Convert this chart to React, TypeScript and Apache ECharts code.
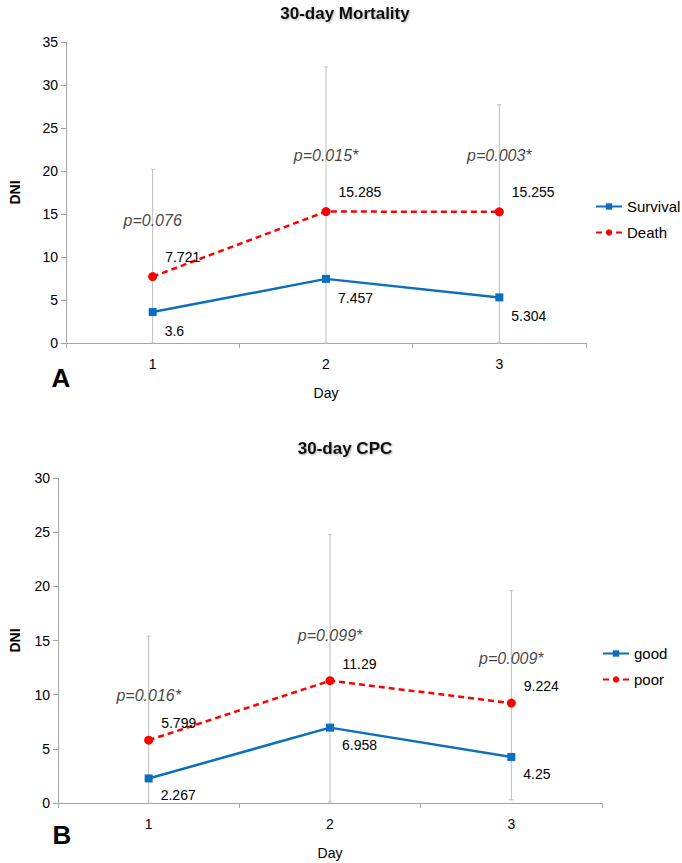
import React, { useEffect, useRef } from "react";
import * as echarts from "echarts";

const days = ["1", "2", "3"];

const mortSurvival = [3.6, 7.457, 5.304];
const mortDeath = [7.721, 15.285, 15.255];
const mortErrHigh = [20.2, 32.1, 27.7];
const mortErrLow = [0, 0, 0];
const mortP = ["p=0.076", "p=0.015*", "p=0.003*"];

const cpcGood = [2.267, 6.958, 4.25];
const cpcPoor = [5.799, 11.29, 9.224];
const cpcErrHigh = [15.4, 24.8, 19.6];
const cpcErrLow = [0, 0.1, 0.3];
const cpcP = ["p=0.016*", "p=0.099*", "p=0.009*"];

const FONT = "'Liberation Sans', Arial, Helvetica, sans-serif";
const AXIS_COLOR = "#a6a6a6";
const BLUE = "#0b6fc0";
const RED = "#ff0000";

function errorSeries(axis: number, low: number[], high: number[]) {
  return {
    type: "custom",
    xAxisIndex: axis,
    yAxisIndex: axis,
    silent: true,
    z: 1,
    encode: { x: 0, y: [1, 2] },
    data: days.map((_, i) => [i, low[i], high[i]]),
    renderItem: (params: any, api: any) => {
      const x = api.value(0);
      const lo = api.coord([x, api.value(1)]);
      const hi = api.coord([x, api.value(2)]);
      const st = { stroke: "#bdbdbd", lineWidth: 1 };
      return {
        type: "group",
        children: [
          { type: "line", shape: { x1: lo[0], y1: lo[1], x2: hi[0], y2: hi[1] }, style: st },
          { type: "line", shape: { x1: hi[0] - 2, y1: hi[1], x2: hi[0] + 2, y2: hi[1] }, style: st },
          { type: "line", shape: { x1: lo[0] - 2, y1: lo[1], x2: lo[0] + 2, y2: lo[1] }, style: st },
        ],
      };
    },
  };
}

function lineSeries(
  name: string,
  axis: number,
  data: number[],
  color: string,
  dashed: boolean,
  symbol: string,
  size: number,
  dy: number
) {
  return {
    type: "line",
    name,
    xAxisIndex: axis,
    yAxisIndex: axis,
    data,
    z: 3,
    symbol,
    symbolSize: size,
    showAllSymbol: true,
    lineStyle: { color, width: 2.5, type: dashed ? [6, 4] : "solid" },
    itemStyle: { color },
    label: {
      show: true,
      position: "right",
      distance: 8,
      offset: [0, dy],
      color: "#000",
      fontSize: 14,
      fontFamily: FONT,
    },
  };
}

function pSeries(axis: number, data: number[], labels: string[], dy: number) {
  return {
    type: "scatter",
    xAxisIndex: axis,
    yAxisIndex: axis,
    data,
    silent: true,
    symbolSize: 1,
    itemStyle: { color: "transparent" },
    z: 4,
    label: {
      show: true,
      position: "inside",
      offset: [0, dy],
      formatter: (p: any) => labels[p.dataIndex],
      fontStyle: "italic",
      fontSize: 16,
      color: "#111",
      fontFamily: FONT,
    },
  };
}

function xAxis(grid: number) {
  return {
    type: "category",
    gridIndex: grid,
    data: days,
    boundaryGap: true,
    name: "Day",
    nameLocation: "middle",
    nameGap: 43,
    nameTextStyle: { color: "#000", fontSize: 14, fontFamily: FONT },
    axisLine: { lineStyle: { color: AXIS_COLOR, width: 1 } },
    axisTick: { show: true, length: 5, alignWithLabel: false, lineStyle: { color: AXIS_COLOR } },
    axisLabel: { color: "#000", fontSize: 14, margin: 14, fontFamily: FONT },
    splitLine: { show: false },
  };
}

function yAxis(grid: number, max: number, gap: number) {
  return {
    type: "value",
    gridIndex: grid,
    min: 0,
    max,
    interval: 5,
    name: "DNI",
    nameLocation: "middle",
    nameGap: gap,
    nameTextStyle: { color: "#000", fontSize: 14, fontWeight: "bold", fontFamily: FONT },
    axisLine: { show: true, lineStyle: { color: AXIS_COLOR, width: 1 } },
    axisTick: { show: true, length: 5, lineStyle: { color: AXIS_COLOR } },
    axisLabel: { color: "#000", fontSize: 14, margin: 8, fontFamily: FONT },
    splitLine: { show: false },
  };
}

function legend(names: string[], left: number, top: number) {
  return {
    data: names,
    orient: "vertical",
    left,
    top,
    padding: 0,
    itemWidth: 26,
    itemHeight: 8,
    itemGap: 11,
    textStyle: { color: "#000", fontSize: 15, fontFamily: FONT, overflow: "none" },
    selectedMode: false,
  };
}

export default function App() {
  const ref = useRef<HTMLDivElement>(null);

  useEffect(() => {
    if (!ref.current) return;
    const chart = echarts.init(ref.current, undefined, { renderer: "svg" });
    const titleStyle = {
      color: "#111",
      fontSize: 17,
      fontWeight: "bold",
      fontFamily: FONT,
      textShadowColor: "rgba(0,0,0,0.3)",
      textShadowBlur: 2,
      textShadowOffsetX: 1,
      textShadowOffsetY: 1,
    };
    chart.setOption({
      animation: false,
      backgroundColor: "#fff",
      title: [
        { text: "30-day Mortality", left: 340, top: 0, textAlign: "center", textStyle: titleStyle },
        { text: "30-day CPC", left: 340, top: 435, textAlign: "center", textStyle: titleStyle },
      ],
      legend: [
        legend(["Survival", "Death"], 595, 199),
        legend(["good", "poor"], 602, 646),
      ],
      grid: [
        { left: 64, top: 42, width: 522, height: 301 },
        { left: 56, top: 478, width: 546, height: 325 },
      ],
      xAxis: [xAxis(0), xAxis(1)],
      yAxis: [yAxis(0, 35, 44), yAxis(1, 30, 36)],
      graphic: [
        {
          type: "text",
          x: 61,
          y: 378,
          style: { text: "A", font: `bold 26px ${FONT}`, fill: "#000", textAlign: "center", textVerticalAlign: "middle" },
        },
        {
          type: "text",
          x: 62,
          y: 835,
          style: { text: "B", font: `bold 26px ${FONT}`, fill: "#000", textAlign: "center", textVerticalAlign: "middle" },
        },
      ],
      series: [
        errorSeries(0, mortErrLow, mortErrHigh),
        errorSeries(1, cpcErrLow, cpcErrHigh),
        lineSeries("Survival", 0, mortSurvival, BLUE, false, "rect", 8, 19),
        lineSeries("Death", 0, mortDeath, RED, true, "circle", 9, -20),
        lineSeries("good", 1, cpcGood, BLUE, false, "rect", 8, 17),
        lineSeries("poor", 1, cpcPoor, RED, true, "circle", 9, -17),
        pSeries(0, mortDeath, mortP, -56),
        pSeries(1, cpcPoor, cpcP, -45),
      ],
    });
    return () => chart.dispose();
  }, []);

  return (
    <div
      ref={ref}
      style={{ position: "fixed", left: 0, top: 0, width: 682, height: 863, background: "#fff" }}
    />
  );
}
